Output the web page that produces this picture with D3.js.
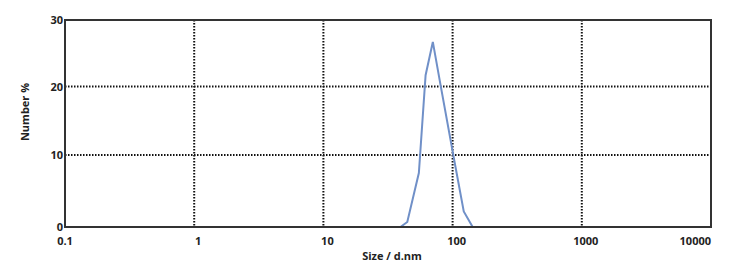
<!DOCTYPE html>
<html>
<head>
<meta charset="utf-8">
<script src="https://cdn.jsdelivr.net/npm/d3@7"></script>
<style>
  body { margin: 0; background: #fff; }
  text { font-family: "Open Sans", "DejaVu Sans", sans-serif; font-weight: bold; fill: #222; }
</style>
</head>
<body>
<svg id="chart" width="748" height="269"></svg>
<script>
// size distribution by number
var sizes = [39.5, 44.6, 54.8, 61.8, 70.3, 80.7, 104, 122, 143];
var numberPct = [0, 0.7, 7.5, 21.7, 26.7, 20.2, 8.85, 2.15, 0];

var xTicks = [0.1, 1, 10, 100, 1000, 10000];
var xTickLabels = ["0.1", "1", "10", "100", "1000", "10000"];
var yTicks = [0, 10, 20, 30];

var plotL = 65, plotR = 711, plotT = 20, plotB = 227;

var svg = d3.select("#chart");

var x = d3.scaleLog().domain([0.1, 10000]).range([plotL, plotR]);
// the source image is slightly stretched vertically, so the rows are not even
var y = d3.scaleLinear().domain(yTicks).range([plotB, 155, 86.5, plotT]);

//======== grid ========
svg.selectAll("line.vgrid")
  .data(xTicks.slice(1, -1))
  .enter()
  .append("line")
  .attr("x1", function(d) { return x(d); })
  .attr("x2", function(d) { return x(d); })
  .attr("y1", plotT)
  .attr("y2", plotB)
  .style("stroke", "#111")
  .style("stroke-width", 2)
  .style("stroke-dasharray", "1.5,1.5");

svg.selectAll("line.hgrid")
  .data(yTicks.slice(1, -1))
  .enter()
  .append("line")
  .attr("x1", plotL)
  .attr("x2", plotR)
  .attr("y1", function(d) { return y(d); })
  .attr("y2", function(d) { return y(d); })
  .style("stroke", "#111")
  .style("stroke-width", 2)
  .style("stroke-dasharray", "1.5,1.5");

//======== curve ========
var line = d3.line()
  .x(function(d) { return x(d[0]); })
  .y(function(d) { return y(d[1]); });

svg.append("path")
  .datum(d3.zip(sizes, numberPct))
  .attr("d", line)
  .style("fill", "none")
  .style("stroke", "#7090c8")
  .style("stroke-width", 2);

//======== frame ========
svg.append("rect")
  .attr("x", plotL)
  .attr("y", plotT)
  .attr("width", plotR - plotL)
  .attr("height", plotB - plotT)
  .style("fill", "none")
  .style("stroke", "#333")
  .style("stroke-width", 2);

//======== tick labels ========
svg.selectAll("text.xlab")
  .data(xTicks)
  .enter()
  .append("text")
  .attr("x", function(d, i) { return i == xTicks.length - 1 ? x(d) : x(d) + (i == 0 ? 0 : 4); })
  .attr("y", 245)
  .attr("text-anchor", function(d, i) { return i == xTicks.length - 1 ? "end" : "middle"; })
  .style("font-size", "11px")
  .text(function(d, i) { return xTickLabels[i]; });

svg.selectAll("text.ylab")
  .data(yTicks)
  .enter()
  .append("text")
  .attr("x", plotL - 2)
  .attr("y", function(d) { return y(d) + 4; })
  .attr("text-anchor", "end")
  .style("font-size", "11px")
  .text(function(d) { return d; });

//======== axis titles ========
svg.append("text")
  .attr("x", 392)
  .attr("y", 260)
  .attr("text-anchor", "middle")
  .style("font-size", "11px")
  .text("Size / d.nm");

svg.append("text")
  .attr("transform", "translate(29,112) rotate(-90)")
  .attr("text-anchor", "middle")
  .style("font-size", "11px")
  .text("Number %");
</script>
</body>
</html>
